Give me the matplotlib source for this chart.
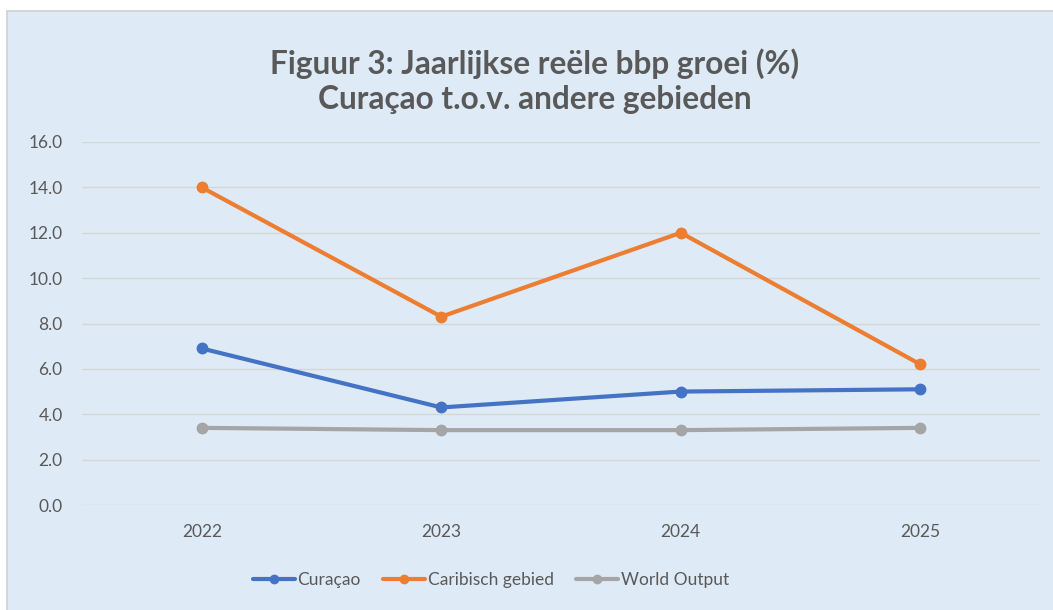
import matplotlib.pyplot as plt
from matplotlib.patches import Rectangle

years = ["2022", "2023", "2024", "2025"]
curacao = [6.9, 4.3, 5.0, 5.1]
caribisch = [14.0, 8.3, 12.0, 6.2]
world_output = [3.4, 3.3, 3.3, 3.4]

series_labels = ["Curaçao", "Caribisch gebied", "World Output"]
series_colors = ["#4472C4", "#ED7D31", "#A5A5A5"]

plt.rcParams['font.family'] = ['Lato', 'DejaVu Sans']
text_color = "#595959"

fig = plt.figure(figsize=(10.53, 6.10), dpi=100)
fig.patch.set_facecolor("white")

# chart area background with thin border
bg = Rectangle((7 / 1053, -0.01), 1.0, 1.01 - 11 / 610, transform=fig.transFigure,
               facecolor="#DEEAF6", edgecolor="#D0D0D0", linewidth=1.2, zorder=-10)
fig.patches.append(bg)

ax = fig.add_axes([82 / 1053, 105 / 610, (1040 - 82) / 1053, (505 - 142) / 610])
ax.set_facecolor("none")
ax.set_zorder(2)

x = range(len(years))
for vals, label, color in zip([curacao, caribisch, world_output], series_labels, series_colors):
    ax.plot(x, vals, color=color, linewidth=3, marker="o", markersize=7.5,
            label=label, solid_capstyle="round", zorder=3)

ax.set_xlim(-0.5, len(years) - 0.5)
ax.set_ylim(0, 16)
ax.set_yticks(range(0, 17, 2))
ax.set_yticklabels([f"{v:.1f}" for v in range(0, 17, 2)])
ax.set_xticks(list(x))
ax.set_xticklabels(years)
ax.yaxis.grid(True, color="#D6D6D6", linewidth=1)
ax.set_axisbelow(True)
for s in ax.spines.values():
    s.set_visible(False)
ax.tick_params(length=0, colors=text_color, labelsize=12.5)
ax.tick_params(axis="y", pad=14)
ax.tick_params(axis="x", pad=14)

fig.text(535 / 1053, 1 - 81 / 610, "Figuur 3: Jaarlijkse reële bbp groei (%)\nCuraçao t.o.v. andere gebieden",
         ha="center", va="center", fontsize=22.8, fontweight="bold", color=text_color,
         linespacing=1.25, zorder=3)

leg = ax.legend(loc="center", bbox_to_anchor=(491 / 1053, 1 - 580 / 610),
                bbox_transform=fig.transFigure, ncol=3, frameon=False,
                fontsize=12.5, handlelength=2.4, handletextpad=0.15, columnspacing=1.3,
                markerscale=0.8)
for t in leg.get_texts():
    t.set_color(text_color)

fig.savefig("out.png", dpi=100)
